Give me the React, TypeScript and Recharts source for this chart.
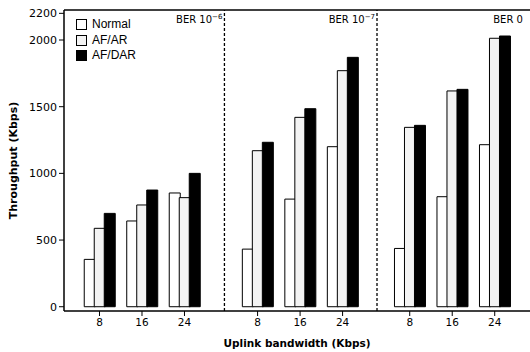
import React from 'react';
import { BarChart, Bar, XAxis, YAxis, ReferenceLine, Legend } from 'recharts';

// Category labels (uplink bandwidth, Kbps) and their positions on the x axis
const categories = ['8', '16', '24', '8', '16', '24', '8', '16', '24'];
const positions = [0, 1, 2, 3.72, 4.72, 5.72, 7.3, 8.3, 9.3];

// Throughput (Kbps)
const normal = [355, 643, 853, 432, 807, 1200, 437, 825, 1215];
const afAr = [588, 763, 818, 1170, 1420, 1770, 1345, 1618, 2013];
const afDar = [700, 875, 1000, 1233, 1485, 1870, 1360, 1630, 2030];

const yTicks = [0, 500, 1000, 1500, 2000, 2200];

// Section dividers and labels
const dividers = [2.94, 6.53];
const sectionBase = ['BER 10', 'BER 10', 'BER 0'];
const sectionExp = ['\u22126', '\u22127', ''];

const xDomain: [number, number] = [-0.835, 10.13];
const yDomain: [number, number] = [-32, 2225];

const seriesNames = ['Normal', 'AF/AR', 'AF/DAR'];
const seriesKeys = ['normal', 'afAr', 'afDar'];
const seriesFills = ['#ffffff', '#f3f3f3', '#000000'];

const data = positions.map((x, i) => ({
  x,
  label: categories[i],
  normal: normal[i],
  afAr: afAr[i],
  afDar: afDar[i],
}));

const sectionLabel = (idx: number) => (props: any) => {
  const vb = props.viewBox || {};
  const x = (vb.x ?? 0) - 2;
  const y = (vb.y ?? 0) + 13;
  return (
    <text
      x={x}
      y={y}
      textAnchor="end"
      fontFamily="DejaVu Sans"
      fontSize={10}
      fill="#000"
    >
      {sectionBase[idx]}
      {sectionExp[idx] ? (
        <tspan dy={-4} fontSize={7}>
          {sectionExp[idx]}
        </tspan>
      ) : null}
    </text>
  );
};

const LegendBox = () => (
  <div style={{ fontFamily: '"Liberation Sans", Arial, sans-serif', fontSize: 12, color: '#000' }}>
    {seriesNames.map((n, i) => (
      <div key={n} style={{ display: 'flex', alignItems: 'center', height: 15.5 }}>
        <div
          style={{
            width: 9,
            height: 9,
            border: '1px solid #000',
            background: seriesFills[i],
            marginRight: 5,
          }}
        />
        <span style={{ lineHeight: '15px' }}>{n}</span>
      </div>
    ))}
  </div>
);

export default function App() {
  return (
    <div style={{ position: 'absolute', left: 0, top: 0, width: 530, height: 352, background: '#fff' }}>
      <BarChart
        width={530}
        height={352}
        data={data}
        margin={{ top: 10, right: 0, bottom: 0, left: 0 }}
        barGap={-1}
      >
        <XAxis
          type="number"
          dataKey="x"
          domain={xDomain}
          allowDataOverflow
          ticks={positions}
          interval={0}
          tickFormatter={(v: number) => categories[positions.indexOf(v)] ?? ''}
          height={41}
          tickSize={5}
          tickMargin={3}
          axisLine={{ stroke: '#000', strokeWidth: 1.5 }}
          tickLine={{ stroke: '#000' }}
          tick={{ fill: '#000', fontFamily: 'DejaVu Sans', fontSize: 10.5 }}
          label={{
            content: (p: any) => {
              const vb = p.viewBox || {};
              return (
                <text
                  x={(vb.x ?? 0) + (vb.width ?? 0) / 2}
                  y={(vb.y ?? 0) + 36}
                  textAnchor="middle"
                  fontFamily="DejaVu Sans"
                  fontWeight="bold"
                  fontSize={10.5}
                  fill="#000"
                >
                  Uplink bandwidth (Kbps)
                </text>
              );
            },
          }}
        />
        <YAxis
          type="number"
          domain={yDomain}
          allowDataOverflow
          ticks={yTicks}
          interval={0}
          width={64}
          tickSize={5}
          tickMargin={2}
          axisLine={{ stroke: '#000', strokeWidth: 1.5 }}
          tickLine={{ stroke: '#000' }}
          tick={{ fill: '#000', fontFamily: 'DejaVu Sans', fontSize: 11 }}
          label={{
            content: (p: any) => {
              const vb = p.viewBox || {};
              const cx = 13;
              const cy = (vb.y ?? 0) + (vb.height ?? 0) / 2;
              return (
                <text
                  x={cx}
                  y={cy}
                  transform={`rotate(-90 ${cx} ${cy})`}
                  textAnchor="middle"
                  dominantBaseline="central"
                  fontFamily="DejaVu Sans"
                  fontWeight="bold"
                  fontSize={11}
                  fill="#000"
                >
                  Throughput (Kbps)
                </text>
              );
            },
          }}
        />
        <ReferenceLine y={yDomain[1]} stroke="#000" strokeWidth={1.5} />
        {dividers.map((d, i) => (
          <ReferenceLine
            key={i}
            x={d}
            stroke="#000"
            strokeWidth={1.3}
            strokeDasharray="3 2"
            label={sectionLabel(i)}
          />
        ))}
        <ReferenceLine x={xDomain[1] - 0.12} stroke="none" label={sectionLabel(2)} />
        <Legend
          layout="vertical"
          align="center"
          verticalAlign="middle"
          wrapperStyle={{ left: 76, top: 17, width: 80, height: 50 }}
          content={() => <LegendBox />}
        />
        {seriesKeys.map((k, i) => (
          <Bar
            key={k}
            dataKey={k}
            name={seriesNames[i]}
            fill={seriesFills[i]}
            stroke="#000"
            strokeWidth={1}
            barSize={11}
            isAnimationActive={false}
          />
        ))}
      </BarChart>
    </div>
  );
}
